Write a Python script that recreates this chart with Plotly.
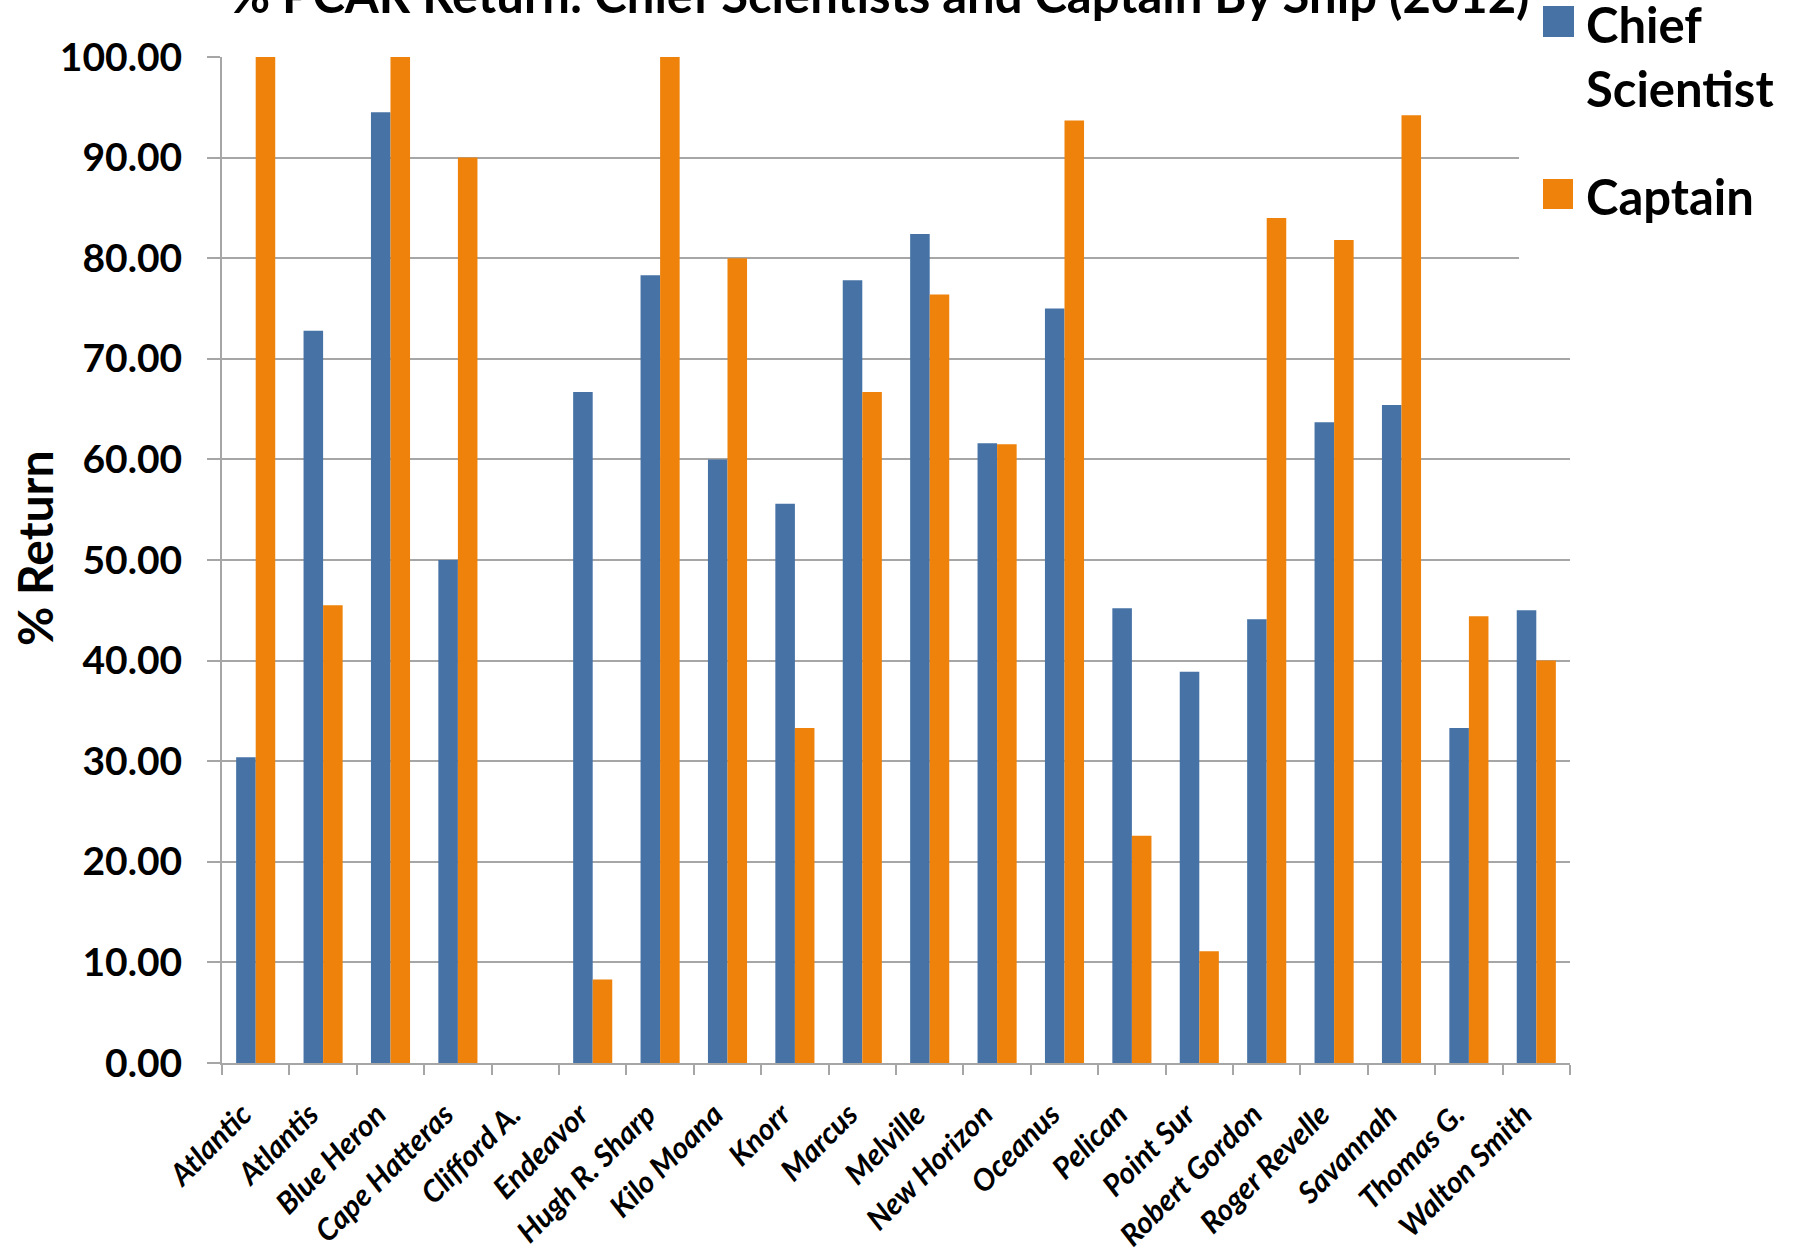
import plotly.graph_objects as go

ships = ["Atlantic", "Atlantis", "Blue Heron", "Cape Hatteras", "Clifford A.", "Endeavor",
         "Hugh R. Sharp", "Kilo Moana", "Knorr", "Marcus", "Melville", "New Horizon",
         "Oceanus", "Pelican", "Point Sur", "Robert Gordon", "Roger Revelle", "Savannah",
         "Thomas G.", "Walton Smith"]
chief_scientist = [30.4, 72.8, 94.5, 50.0, None, 66.7, 78.3, 60.0, 55.6, 77.8, 82.4, 61.6,
                   75.0, 45.2, 38.9, 44.1, 63.7, 65.4, 33.3, 45.0]
captain = [100.0, 45.5, 100.0, 90.0, None, 8.3, 100.0, 80.0, 33.3, 66.7, 76.4, 61.5,
           93.7, 22.6, 11.1, 84.0, 81.8, 94.2, 44.4, 40.0]
y_ticks = [0, 10, 20, 30, 40, 50, 60, 70, 80, 90, 100]

BLUE = "#4672A6"
ORANGE = "#EE820A"
GRID = "#A6A6A6"
FONT = "Lato"

W, H = 1800, 1255
L, R, T, B = 222, 1570, 57, 1063


def px_x(px):
    return (px - L) / (R - L)


def px_y(py):
    return (B - py) / (B - T)


fig = go.Figure()
fig.add_trace(go.Bar(x=ships, y=chief_scientist, name="Chief Scientist",
                     marker=dict(color=BLUE, line=dict(width=0)), showlegend=False))
fig.add_trace(go.Bar(x=ships, y=captain, name="Captain",
                     marker=dict(color=ORANGE, line=dict(width=0)), showlegend=False))

fig.update_layout(
    width=W, height=H,
    margin=dict(l=L, r=W - R, t=T, b=H - B, pad=0, autoexpand=False),
    paper_bgcolor="white", plot_bgcolor="white",
    barmode="group", bargap=0.42, bargroupgap=0,
    font=dict(family=FONT, color="black"),
)

fig.update_xaxes(
    type="category", showline=True, linecolor=GRID, linewidth=2,
    ticks="outside", tickson="boundaries", ticklen=10, tickcolor=GRID, tickwidth=2,
    tickangle=-45, ticklabelstandoff=20, ticklabelshift=-13,
    tickfont=dict(family=FONT, size=30, weight="bold", style="italic", color="black"),
    showgrid=False, automargin=False,
)
fig.update_yaxes(
    range=[0, 100], tickvals=y_ticks, tickformat=".2f",
    showline=True, linecolor=GRID, linewidth=2,
    ticks="outside", ticklen=13, tickcolor=GRID, tickwidth=2,
    showgrid=True, gridcolor=GRID, gridwidth=2,
    ticklabelstandoff=17,
    tickfont=dict(family=FONT, size=39, weight="bold", color="black"),
    zeroline=False, automargin=False,
)

shapes = [
    # legend background hiding gridlines
    dict(type="rect", xref="paper", yref="paper", x0=px_x(1519), x1=px_x(1800),
         y0=px_y(300), y1=px_y(0), fillcolor="white", line=dict(width=0), layer="above"),
    dict(type="rect", xref="paper", yref="paper", x0=px_x(1543), x1=px_x(1574),
         y0=px_y(37), y1=px_y(6), fillcolor=BLUE, line=dict(width=0), layer="above"),
    dict(type="rect", xref="paper", yref="paper", x0=px_x(1543), x1=px_x(1573),
         y0=px_y(209), y1=px_y(179), fillcolor=ORANGE, line=dict(width=0), layer="above"),
]
fig.update_layout(shapes=shapes)

leg_font = dict(family=FONT, size=49, weight="bold", color="black")
annotations = [
    dict(text="% PCAR Return: Chief Scientists and Captain By Ship (2012)",
         xref="paper", yref="paper", x=px_x(880), y=px_y(25), xanchor="center", yanchor="bottom",
         showarrow=False, font=dict(family=FONT, size=49, weight="bold", color="black")),
    dict(text="% Return", xref="paper", yref="paper", x=px_x(34), y=px_y(548),
         xanchor="center", yanchor="middle", textangle=-90, showarrow=False,
         font=dict(family=FONT, size=48, weight="bold", color="black")),
    dict(text="Chief", xref="paper", yref="paper", x=px_x(1584), y=px_y(24),
         xanchor="left", yanchor="middle", showarrow=False, font=leg_font),
    dict(text="Scientist", xref="paper", yref="paper", x=px_x(1584), y=px_y(88),
         xanchor="left", yanchor="middle", showarrow=False, font=leg_font),
    dict(text="Captain", xref="paper", yref="paper", x=px_x(1584), y=px_y(196),
         xanchor="left", yanchor="middle", showarrow=False, font=leg_font),
]
fig.update_layout(annotations=annotations)

fig.write_html("out.html", config={"displayModeBar": False},
               post_script="document.body.style.margin='0';")
